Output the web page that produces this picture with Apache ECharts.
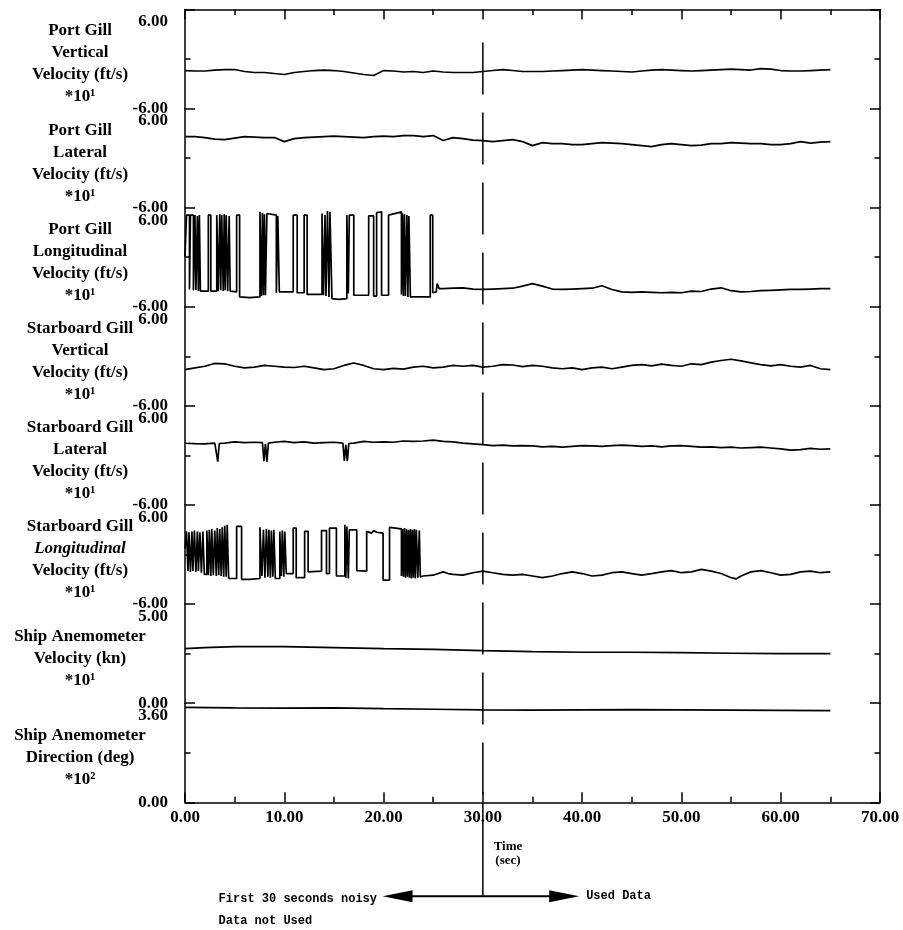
<html>
<head>
<meta charset="utf-8">
<script src="https://cdn.jsdelivr.net/npm/echarts@6/dist/echarts.min.js"></script>
<style>
html, body { margin: 0; padding: 0; background: #fff; }
#main { width: 903px; height: 930px; }
</style>
</head>
<body>
<div id="main"></div>
<script>

// ---- data ----
var panelTitles = [
    'Port Gill\nVertical\nVelocity (ft/s)\n*10¹',
    'Port Gill\nLateral\nVelocity (ft/s)\n*10¹',
    'Port Gill\nLongitudinal\nVelocity (ft/s)\n*10¹',
    'Starboard Gill\nVertical\nVelocity (ft/s)\n*10¹',
    'Starboard Gill\nLateral\nVelocity (ft/s)\n*10¹',
    '{n|Starboard Gill}\n{i|Longitudinal}\n{n|Velocity (ft/s)}\n{n|*10¹}',
    'Ship Anemometer\nVelocity (kn)\n*10¹',
    'Ship Anemometer\nDirection (deg)\n*10²'
];
var panelMin = [-6, -6, -6, -6, -6, -6, 0, 0];
var panelMax = [6, 6, 6, 6, 6, 6, 5, 3.6];

var timeMin = 0;
var timeMax = 70;
var cutoffTime = 30;

// one value per second, t = 0..65
var portGillVertical = [
    -1.39, -1.45, -1.45, -1.33, -1.27, -1.27, -1.51, -1.63, -1.63, -1.75,
    -1.87, -1.63, -1.51, -1.39, -1.33, -1.39, -1.51, -1.69, -1.87, -1.99,
    -1.39, -1.45, -1.57, -1.51, -1.63, -1.45, -1.57, -1.63, -1.63, -1.63,
    -1.51, -1.39, -1.27, -1.39, -1.51, -1.51, -1.51, -1.45, -1.39, -1.33,
    -1.27, -1.33, -1.39, -1.45, -1.51, -1.57, -1.45, -1.33, -1.27, -1.33,
    -1.39, -1.45, -1.39, -1.33, -1.27, -1.21, -1.27, -1.33, -1.15, -1.21,
    -1.39, -1.45, -1.45, -1.39, -1.33, -1.27
];
var portGillLateral = [
    2.61, 2.61, 2.49, 2.31, 2.25, 2.43, 2.61, 2.55, 2.49, 2.49,
    2.00, 2.37, 2.49, 2.55, 2.61, 2.67, 2.61, 2.55, 2.49, 2.61,
    2.67, 2.61, 2.73, 2.73, 2.61, 2.73, 2.13, 2.49, 2.37, 2.19,
    2.13, 2.00, 2.13, 2.25, 2.00, 1.52, 1.88, 1.76, 1.76, 1.64,
    1.64, 1.76, 1.88, 1.82, 1.76, 1.64, 1.52, 1.40, 1.64, 1.76,
    1.64, 1.52, 1.58, 1.76, 1.76, 1.88, 1.82, 1.76, 1.76, 1.64,
    1.64, 1.76, 2.00, 1.82, 1.94, 2.00
];
var starboardGillVertical = [
    -1.6, -1.4, -1.2, -0.85, -0.9, -1.2, -1.4, -1.3, -1.1, -1.2,
    -1.3, -1.35, -1.2, -1.4, -1.6, -1.5, -1.1, -0.8, -1.1, -1.5,
    -1.6, -1.45, -1.55, -1.3, -1.2, -1.4, -1.3, -1.1, -1.2, -1.1,
    -1.3, -1.2, -1.0, -1.05, -1.25, -1.1, -1.2, -1.4, -1.5, -1.4,
    -1.6, -1.4, -1.3, -1.5, -1.3, -1.1, -1.0, -1.15, -0.95, -1.1,
    -1.2, -0.9, -1.0, -0.7, -0.5, -0.35, -0.55, -0.8, -1.0, -1.15,
    -1.0, -1.2, -1.3, -1.1, -1.5, -1.6
];

// [time, value] pairs
var portGillLongitudinal = [
    [0, 0.1], [0.15, 0.1], [0.15, 5.1], [0.45, 5.1], [0.45, -3.9], [0.55, -3.9], [0.55, 5.1], [0.85, 5.1],
    [0.85, -4.0], [1.0, -4.0], [1.0, 5.1], [1.1, 5.1], [1.1, -4.0], [1.25, -4.0], [1.25, 5.0], [1.35, 5.0],
    [1.35, -4.1], [1.45, -4.1], [1.45, 5.1], [1.55, 5.1], [1.55, -4.1], [2.35, -4.1], [2.35, 5.1], [2.6, 5.1],
    [2.6, -4.1], [3.2, -4.1], [3.2, 5.1], [3.35, 5.1], [3.35, -4.1], [3.5, -4.1], [3.5, 5.2], [3.6, 5.2],
    [3.6, -4.0], [3.7, -4.0], [3.7, 5.1], [3.85, 5.1], [3.85, -4.1], [3.95, -4.1], [3.95, 5.2], [4.05, 5.2],
    [4.05, -4.0], [4.15, -4.0], [4.15, 5.1], [4.3, 5.1], [4.3, -4.1], [4.45, -4.1], [4.45, 5.0], [4.55, 5.0],
    [4.55, -4.1], [5.2, -4.2], [5.2, 5.1], [5.5, 5.1], [5.5, -4.8], [6.5, -4.9], [7.55, -4.8], [7.55, 5.5],
    [7.7, 5.5], [7.7, -4.7], [7.8, -4.7], [7.8, 5.4], [7.9, 5.4], [7.9, -4.6], [8.0, -4.6], [8.0, 5.2],
    [8.1, 5.2], [8.1, -4.6], [8.25, -4.6], [8.25, 5.3], [9.2, 5.1], [9.2, -4.3], [9.35, -4.3], [9.35, 5.0],
    [9.5, 5.0], [9.5, -4.2], [10.9, -4.2], [10.9, 5.1], [11.3, 5.1], [11.3, -4.3], [12.0, -4.3], [12.0, 5.1],
    [12.3, 5.1], [12.3, -4.5], [13.8, -4.5], [13.8, 5.3], [13.95, 5.3], [13.95, -4.6], [14.1, -4.6], [14.1, 5.1],
    [14.2, 5.1], [14.2, -4.7], [14.35, -4.7], [14.35, 5.6], [14.5, 5.6], [14.5, -4.8], [14.6, -4.8], [14.6, 5.5],
    [14.8, 5.5], [14.8, -5.0], [15.5, -5.1], [16.3, -5.0], [16.3, 5.1], [16.45, 5.1], [16.45, -4.4], [16.55, -4.4],
    [16.55, 5.1], [17.0, 5.1], [17.0, -4.6], [18.5, -4.6], [18.5, 5.0], [19.0, 5.0], [19.0, -4.7], [19.3, -4.7],
    [19.3, 5.4], [19.8, 5.5], [19.8, -4.6], [20.5, -4.6], [20.5, 5.1], [21.8, 5.5], [21.8, -4.5], [21.9, -4.5],
    [21.9, 5.3], [22.0, 5.3], [22.0, -4.7], [22.1, -4.7], [22.1, 5.2], [22.2, 5.2], [22.2, -4.7], [22.35, -4.7],
    [22.35, 5.1], [22.45, 5.1], [22.45, -4.8], [22.55, -4.8], [22.55, 5.0], [22.7, 5.0], [22.7, -4.8], [24.7, -4.8],
    [24.7, 5.1], [24.95, 5.1], [24.95, -4.3], [25.3, -4.2], [25.4, -3.2], [25.6, -3.8], [26, -3.8], [27, -3.75],
    [28, -3.7], [29, -3.85], [30, -3.9], [31, -3.85], [32, -3.8], [33, -3.75], [34, -3.5], [35, -3.2],
    [36, -3.5], [37, -3.85], [38, -3.9], [39, -3.85], [40, -3.8], [41, -3.75], [42, -3.45], [43, -3.9],
    [44, -4.2], [45, -4.25], [46, -4.2], [47, -4.25], [48, -4.3], [49, -4.25], [50, -4.3], [51, -4.1],
    [52, -4.15], [53, -3.85], [54, -3.7], [55, -4.05], [56, -4.2], [57, -4.15], [58, -4.05], [59, -4.0],
    [60, -3.95], [61, -3.9], [62, -3.9], [63, -3.85], [64, -3.8], [65, -3.8]
];
var starboardGillLateral = [
    [0, 1.48], [1, 1.42], [2, 1.4], [3, 1.5], [3.15, 1.5], [3.3, -0.75], [3.45, 1.45], [4, 1.5],
    [5, 1.65], [6, 1.55], [7, 1.6], [7.8, 1.55], [7.95, -0.7], [8.1, 1.4], [8.25, -0.75], [8.4, 1.5],
    [9, 1.6], [10, 1.7], [11, 1.55], [12, 1.65], [13, 1.5], [14, 1.55], [15, 1.6], [15.9, 1.5],
    [16.05, -0.65], [16.2, 1.3], [16.35, -0.7], [16.5, 1.45], [17, 1.5], [18, 1.7], [19, 1.6], [20, 1.65],
    [21, 1.6], [22, 1.75], [23, 1.7], [24, 1.75], [25, 1.85], [26, 1.7], [27, 1.65], [28, 1.5],
    [29, 1.4], [30, 1.3], [31, 1.2], [32, 1.25], [33, 1.15], [34, 1.2], [35, 1.15], [36, 1.05],
    [37, 1.1], [38, 1.0], [39, 1.1], [40, 1.2], [41, 1.15], [42, 1.1], [43, 1.2], [44, 1.25],
    [45, 1.2], [46, 1.1], [47, 1.15], [48, 1.05], [49, 1.15], [50, 1.2], [51, 1.1], [52, 1.0],
    [53, 1.05], [54, 0.95], [55, 1.0], [56, 0.9], [57, 0.95], [58, 1.0], [59, 0.9], [60, 0.8],
    [61, 0.65], [62, 0.7], [63, 0.85], [64, 0.75], [65, 0.8]
];
var starboardGillLongitudinal = [
    [0, 0.7], [0.15, 0.7], [0.15, 2.8], [0.3, 2.8], [0.3, -2.0], [0.4, -2.0], [0.4, 2.7], [0.55, 2.7],
    [0.55, -2.1], [0.7, -2.1], [0.7, 2.8], [0.8, 2.8], [0.8, -2.0], [0.95, -2.0], [0.95, 2.9], [1.1, 2.9],
    [1.1, -2.1], [1.25, -2.1], [1.25, 2.8], [1.35, 2.8], [1.35, -2.0], [1.5, -2.0], [1.5, 2.7], [1.65, 2.7],
    [1.65, -2.2], [1.8, -2.2], [1.8, 2.8], [1.95, 2.8], [1.95, -2.4], [2.2, -2.4], [2.2, 2.9], [2.35, 2.9],
    [2.35, -2.5], [2.45, -2.5], [2.45, 3.0], [2.6, 3.0], [2.6, -2.6], [2.7, -2.6], [2.7, 3.1], [2.85, 3.1],
    [2.85, -2.5], [3.0, -2.5], [3.0, 2.9], [3.15, 2.9], [3.15, -2.6], [3.25, -2.6], [3.25, 3.2], [3.4, 3.2],
    [3.4, -2.5], [3.5, -2.5], [3.5, 3.1], [3.65, 3.1], [3.65, -2.6], [3.75, -2.6], [3.75, 3.3], [3.9, 3.3],
    [3.9, -2.7], [4.0, -2.7], [4.0, 3.5], [4.15, 3.5], [4.15, -2.7], [4.25, -2.7], [4.25, 3.6], [4.4, 3.6],
    [4.4, -2.9], [5.2, -2.9], [5.2, 3.4], [5.7, 3.4], [5.7, -3.0], [6.5, -3.0], [7.55, -2.9], [7.55, 3.3],
    [7.75, 3.3], [7.75, -2.6], [7.9, -2.6], [7.9, 3.0], [8.05, 3.0], [8.05, -2.8], [8.2, -2.8], [8.2, 3.1],
    [8.35, 3.1], [8.35, -2.7], [8.45, -2.7], [8.45, 3.0], [8.6, 3.0], [8.6, -2.8], [8.7, -2.8], [8.7, 2.9],
    [8.85, 2.9], [8.85, -2.7], [8.95, -2.7], [8.95, 3.0], [9.1, 3.0], [9.1, -2.9], [9.55, -2.9], [9.55, 2.8],
    [9.7, 2.8], [9.7, -2.6], [9.8, -2.6], [9.8, 2.9], [9.95, 2.9], [9.95, -2.7], [10.05, -2.7], [10.05, 2.8],
    [10.2, 2.8], [10.2, -2.3], [10.9, -2.3], [10.9, 3.2], [11.2, 3.2], [11.2, -2.8], [12.05, -2.8], [12.05, 2.8],
    [12.4, 2.8], [12.4, -2.1], [13.75, -2.0], [13.75, 2.9], [14.25, 2.9], [14.25, -2.3], [14.55, -2.3], [14.55, 3.2],
    [15.25, 3.2], [15.25, -2.6], [16.1, -2.6], [16.1, 3.6], [16.2, 3.6], [16.2, -2.8], [16.3, -2.8], [16.3, 3.4],
    [16.45, 3.4], [16.45, -2.9], [16.55, -2.9], [16.55, 3.0], [17.3, 3.0], [17.3, -1.95], [18.3, -2.0], [18.3, 2.8],
    [18.8, 2.6], [19.0, 2.9], [19.3, 2.7], [19.95, 2.6], [19.95, -3.1], [20.6, -3.1], [20.6, 3.3], [21.8, 3.1],
    [21.8, -2.6], [21.9, -2.6], [21.9, 3.1], [22.0, 3.1], [22.0, -2.7], [22.1, -2.7], [22.1, 3.2], [22.2, 3.2],
    [22.2, -2.8], [22.3, -2.8], [22.3, 3.1], [22.4, 3.1], [22.4, -2.7], [22.5, -2.7], [22.5, 3.0], [22.6, 3.0],
    [22.6, -2.8], [22.7, -2.8], [22.7, 3.1], [22.8, 3.1], [22.8, -2.9], [22.9, -2.9], [22.9, 3.0], [23.0, 3.0],
    [23.0, -2.8], [23.1, -2.8], [23.1, 3.1], [23.2, 3.1], [23.2, -2.9], [23.3, -2.9], [23.3, 3.0], [23.45, 3.0],
    [23.45, -2.8], [23.6, -2.8], [23.6, 2.9], [23.7, 2.9], [23.7, -2.7], [24, -2.6], [25, -2.5], [25.5, -2.3],
    [26, -2.1], [26.5, -2.3], [27, -2.4], [28, -2.5], [29, -2.2], [30, -2.0], [31, -2.2], [32, -2.4],
    [33, -2.5], [34, -2.4], [35, -2.6], [36, -2.8], [37, -2.6], [38, -2.3], [39, -2.1], [40, -2.3],
    [41, -2.6], [42, -2.5], [43, -2.2], [44, -2.1], [45, -2.3], [46, -2.5], [47, -2.3], [48, -2.1],
    [49, -1.95], [50, -2.2], [51, -2.1], [52, -1.8], [53, -2.0], [54, -2.3], [55, -2.8], [55.5, -2.95],
    [56, -2.6], [57, -2.1], [58, -1.95], [59, -2.2], [60, -2.5], [61, -2.4], [62, -2.1], [63, -2.0],
    [64, -2.2], [65, -2.1]
];
var shipAnemometerVelocity = [
    [0, 2.75], [2, 2.8], [5, 2.85], [10, 2.85], [15, 2.8], [20, 2.75], [25, 2.72], [30, 2.65],
    [35, 2.6], [40, 2.57], [45, 2.57], [50, 2.55], [55, 2.52], [60, 2.5], [65, 2.5]
];
var shipAnemometerDirection = [
    [0, 3.45], [5, 3.43], [10, 3.42], [15, 3.43], [20, 3.4], [25, 3.38], [30, 3.36], [35, 3.35],
    [40, 3.36], [45, 3.37], [50, 3.36], [55, 3.35], [60, 3.34], [65, 3.33]
];

function perSecond(values) {
    return values.map(function (v, i) { return [i, v]; });
}

var panelData = [
    perSecond(portGillVertical),
    perSecond(portGillLateral),
    portGillLongitudinal,
    perSecond(starboardGillVertical),
    starboardGillLateral,
    starboardGillLongitudinal,
    shipAnemometerVelocity,
    shipAnemometerDirection
];

// ---- layout ----
var SERIF = '"Liberation Serif", "Times New Roman", serif';
var MONO = '"Liberation Mono", "Courier New", monospace';
var GRID_LEFT = 185;
var GRID_RIGHT = 23;
var GRID_TOP = 9.5;
var PANEL_H = 99.1;
var LINE = { color: '#000', width: 1.5 };

var chart = echarts.init(document.getElementById('main'));

var grids = [], xAxes = [], yAxes = [], series = [];
for (var i = 0; i < 8; i++) {
    grids.push({
        left: GRID_LEFT, right: GRID_RIGHT,
        top: GRID_TOP + i * PANEL_H, height: PANEL_H
    });
    var isTop = i === 0, isBottom = i === 7;
    xAxes.push({
        gridIndex: i,
        type: 'value',
        min: timeMin, max: timeMax, interval: 10,
        show: isTop || isBottom,
        position: isTop ? 'top' : 'bottom',
        axisLine: { show: true, onZero: false, lineStyle: LINE },
        axisTick: { inside: true, length: 10, lineStyle: LINE },
        minorTick: { show: true, splitNumber: 2, length: 5.5, lineStyle: LINE },
        splitLine: { show: false },
        axisLabel: {
            show: isBottom,
            color: '#000', fontFamily: SERIF, fontSize: 17, fontWeight: 'bold', margin: 7,
            formatter: function (v) { return v.toFixed(2); }
        },
        name: isBottom ? 'Time\n(sec)' : '',
        nameLocation: 'middle',
        nameGap: 37,
        nameTextStyle: {
            color: '#000', fontFamily: SERIF, fontSize: 13, fontWeight: 'bold',
            lineHeight: 14, padding: [0, 49, 0, 0]
        }
    });
    var range = panelMax[i] - panelMin[i];
    yAxes.push({
        gridIndex: i,
        type: 'value',
        position: 'left',
        min: panelMin[i], max: panelMax[i], interval: range,
        axisLine: { show: true, onZero: false, lineStyle: LINE },
        axisTick: { inside: true, length: 10, lineStyle: LINE },
        minorTick: { show: true, splitNumber: 2, length: 5.5, lineStyle: LINE },
        splitLine: { show: false },
        axisLabel: {
            color: '#000', fontFamily: SERIF, fontSize: 17, fontWeight: 'bold', margin: 17,
            lineHeight: 25,
            verticalAlignMaxLabel: 'top',
            formatter: function (v) { return v.toFixed(2); }
        },
        name: panelTitles[i],
        nameLocation: 'middle',
        nameRotate: 0,
        nameGap: 105,
        nameMoveOverlap: false,
        nameTextStyle: {
            color: '#000', fontFamily: SERIF, fontSize: 17, fontWeight: 'bold',
            lineHeight: 22, align: 'center', verticalAlign: 'middle', padding: [10, 0, 0, 0],
            rich: {
                n: { fontFamily: SERIF, fontSize: 17, fontWeight: 'bold', lineHeight: 22, color: '#000' },
                i: { fontFamily: SERIF, fontSize: 17, fontWeight: 'bold', fontStyle: 'italic', lineHeight: 22, color: '#000' }
            }
        }
    });
    yAxes.push({
        gridIndex: i,
        type: 'value',
        position: 'right',
        min: panelMin[i], max: panelMax[i], interval: range,
        axisLine: { show: true, onZero: false, lineStyle: LINE },
        axisTick: { inside: true, length: 10, lineStyle: LINE },
        minorTick: { show: true, splitNumber: 2, length: 5.5, lineStyle: LINE },
        splitLine: { show: false },
        axisLabel: { show: false }
    });
    series.push({
        type: 'line',
        xAxisIndex: i,
        yAxisIndex: 2 * i,
        data: panelData[i],
        showSymbol: false,
        symbol: 'none',
        lineStyle: { color: '#000', width: 1.7 },
        silent: true
    });
}

chart.setOption({
    animation: false,
    backgroundColor: '#fff',
    grid: grids,
    xAxis: xAxes,
    yAxis: yAxes,
    series: series
});

// cut-off marker at t = 30 and the note underneath
var xCut = chart.convertToPixel({ xAxisIndex: 0 }, cutoffTime);
var yTop = chart.convertToPixel({ yAxisIndex: 0 }, panelMax[0]);
var yBottom = chart.convertToPixel({ yAxisIndex: 14 }, panelMin[7]);
var xArrowL = chart.convertToPixel({ xAxisIndex: 7 }, 19.9);
var xArrowR = chart.convertToPixel({ xAxisIndex: 7 }, 39.7);
var yArrow = yBottom + 94;

chart.setOption({
    graphic: [
        {
            type: 'line', silent: true,
            shape: { x1: xCut, y1: yTop + 33, x2: xCut, y2: yBottom },
            style: { stroke: '#000', lineWidth: 1.5, lineDash: [52, 18] }
        },
        {
            type: 'line', silent: true,
            shape: { x1: xCut, y1: yBottom, x2: xCut, y2: yArrow },
            style: { stroke: '#000', lineWidth: 1.5 }
        },
        {
            type: 'line', silent: true,
            shape: { x1: xArrowL + 20, y1: yArrow, x2: xArrowR - 20, y2: yArrow },
            style: { stroke: '#000', lineWidth: 2 }
        },
        {
            type: 'polygon', silent: true,
            shape: { points: [[xArrowL, yArrow], [xArrowL + 30, yArrow - 6], [xArrowL + 30, yArrow + 6]] },
            style: { fill: '#000' }
        },
        {
            type: 'polygon', silent: true,
            shape: { points: [[xArrowR, yArrow], [xArrowR - 30, yArrow - 6], [xArrowR - 30, yArrow + 6]] },
            style: { fill: '#000' }
        },
        {
            type: 'text', silent: true,
            x: xArrowL - 164, y: yArrow - 8,
            style: {
                text: 'First 30 seconds noisy\nData not Used',
                fill: '#000', font: 'bold 12px ' + MONO, lineHeight: 22,
                textAlign: 'left', textVerticalAlign: 'top'
            }
        },
        {
            type: 'text', silent: true,
            x: xArrowR + 7, y: yArrow,
            style: {
                text: 'Used Data',
                fill: '#000', font: 'bold 12px ' + MONO,
                textAlign: 'left', textVerticalAlign: 'middle'
            }
        }
    ]
});

</script>
</body>
</html>
